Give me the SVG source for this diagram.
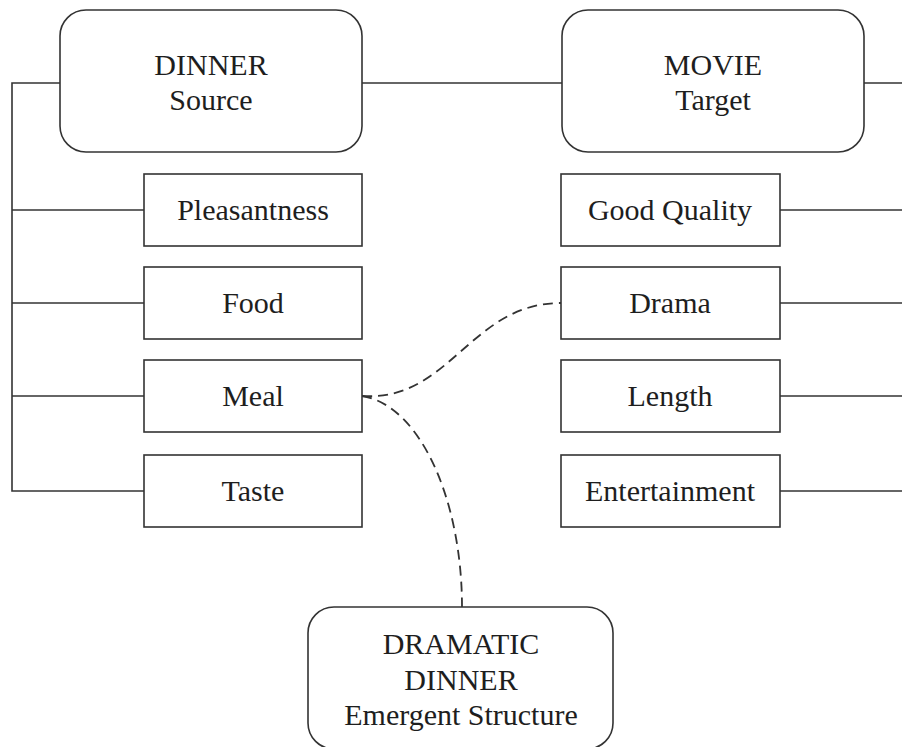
<svg xmlns="http://www.w3.org/2000/svg" width="902" height="747" viewBox="0 0 902 747">
  <style>
    .node { fill: #ffffff; stroke: #333333; stroke-width: 1.6; }
    .wire { fill: none; stroke: #333333; stroke-width: 1.6; }
    .dash { fill: none; stroke: #333333; stroke-width: 1.8; stroke-dasharray: 10 6; }
    text { font-family: "Liberation Serif", "Times New Roman", serif; font-size: 30px; fill: #1e1e1e; text-anchor: middle; }
  </style>

  <g id="connectors">
    <!-- source bus on the left -->
    <path class="wire" d="M60 83 H12 V491 H144"/>
    <path class="wire" d="M12 210 H144"/>
    <path class="wire" d="M12 303 H144"/>
    <path class="wire" d="M12 396 H144"/>
    <!-- source to target -->
    <path class="wire" d="M362 83 H562"/>
    <!-- target bus on the right -->
    <path class="wire" d="M864 83 H902"/>
    <path class="wire" d="M780 210 H902"/>
    <path class="wire" d="M780 303 H902"/>
    <path class="wire" d="M780 396 H902"/>
    <path class="wire" d="M780 491 H902"/>
    <!-- blend mappings -->
    <path class="dash" d="M362 396 C450 402 470 303 561 303"/>
    <path class="dash" d="M362 396 C420 405 462 500 462 607"/>
  </g>

  <g id="dinner">
    <rect class="node" x="60" y="10" width="302" height="142" rx="26"/>
    <text x="211" y="75">DINNER</text>
    <text x="211" y="110">Source</text>
  </g>
  <g id="movie">
    <rect class="node" x="562" y="10" width="302" height="142" rx="26"/>
    <text x="713" y="75">MOVIE</text>
    <text x="713" y="110">Target</text>
  </g>

  <g id="pleasantness">
    <rect class="node" x="144" y="174" width="218" height="72"/>
    <text x="253" y="220">Pleasantness</text>
  </g>
  <g id="food">
    <rect class="node" x="144" y="267" width="218" height="72"/>
    <text x="253" y="313">Food</text>
  </g>
  <g id="meal">
    <rect class="node" x="144" y="360" width="218" height="72"/>
    <text x="253" y="406">Meal</text>
  </g>
  <g id="taste">
    <rect class="node" x="144" y="455" width="218" height="72"/>
    <text x="253" y="501">Taste</text>
  </g>

  <g id="good-quality">
    <rect class="node" x="561" y="174" width="219" height="72"/>
    <text x="670" y="220">Good Quality</text>
  </g>
  <g id="drama">
    <rect class="node" x="561" y="267" width="219" height="72"/>
    <text x="670" y="313">Drama</text>
  </g>
  <g id="length">
    <rect class="node" x="561" y="360" width="219" height="72"/>
    <text x="670" y="406">Length</text>
  </g>
  <g id="entertainment">
    <rect class="node" x="561" y="455" width="219" height="72"/>
    <text x="670" y="501">Entertainment</text>
  </g>

  <g id="dramatic-dinner">
    <rect class="node" x="308" y="607" width="305" height="142" rx="26"/>
    <text x="461" y="654">DRAMATIC</text>
    <text x="461" y="690">DINNER</text>
    <text x="461" y="725">Emergent Structure</text>
  </g>
</svg>
